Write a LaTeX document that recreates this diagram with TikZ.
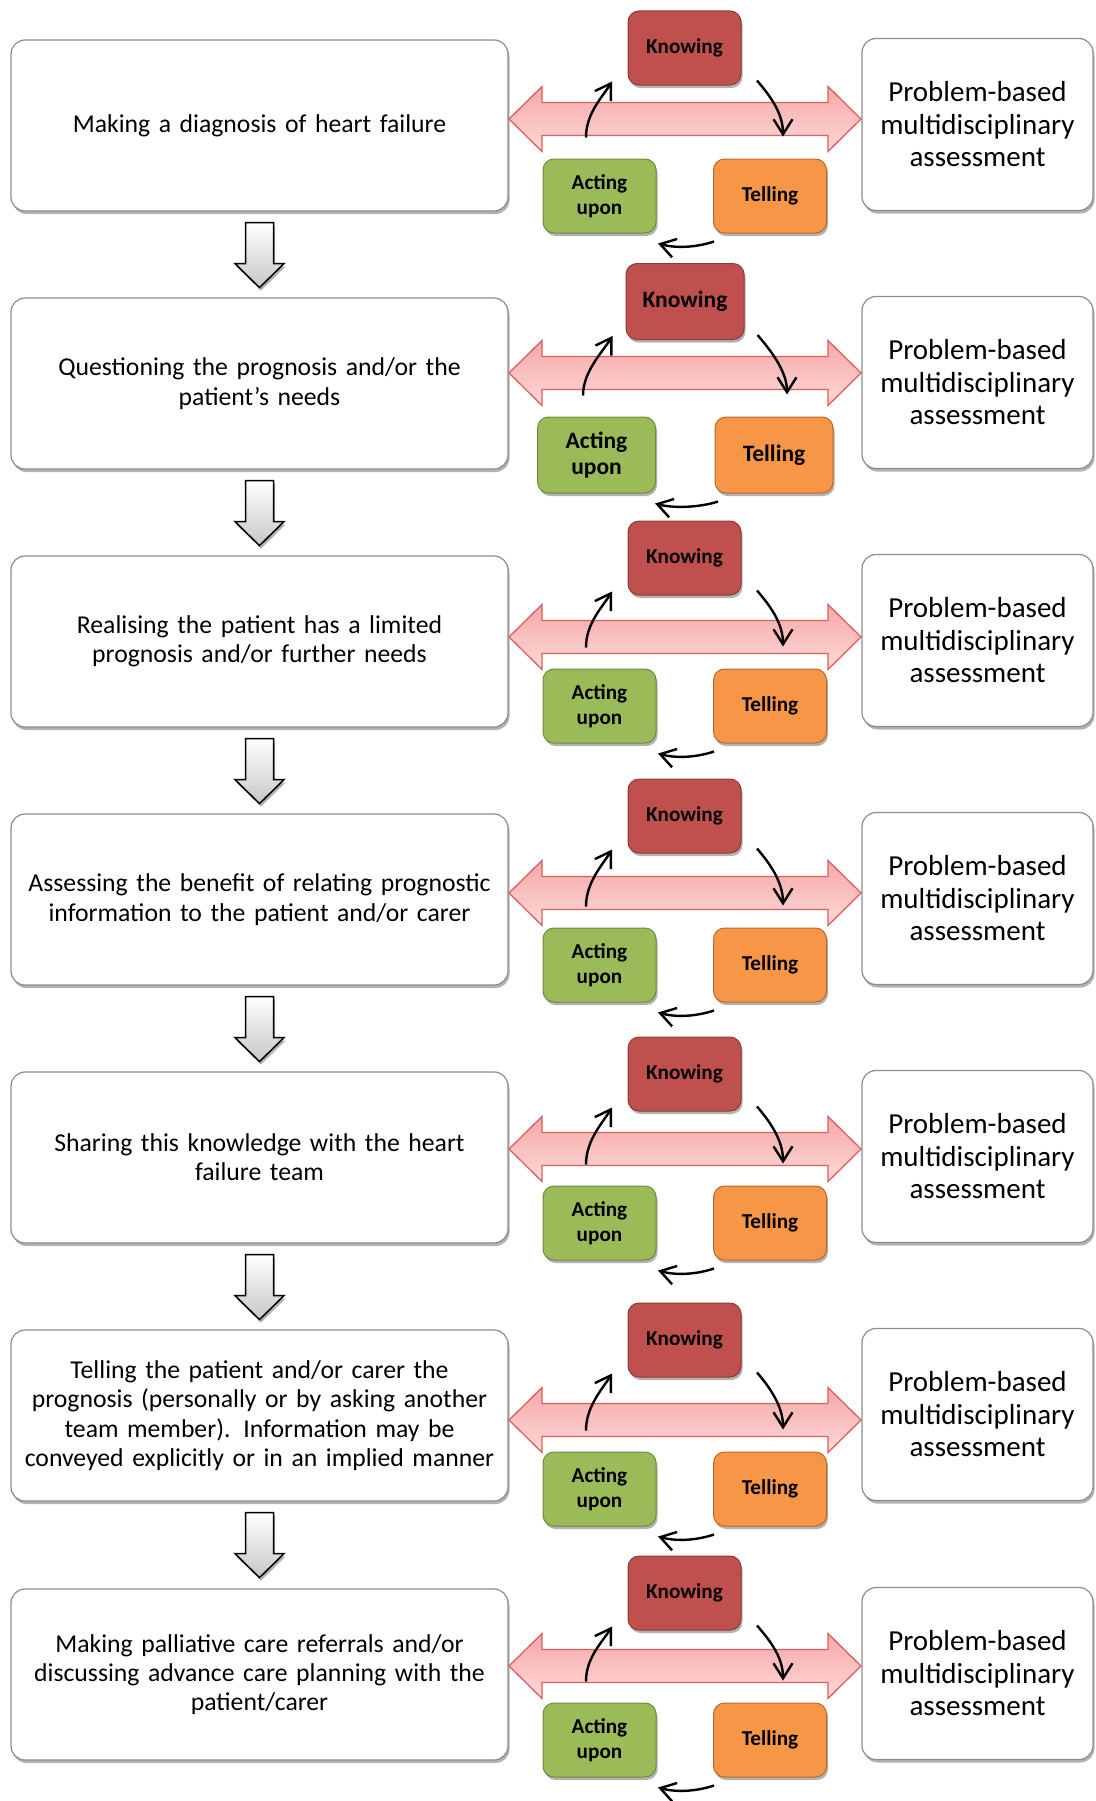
\documentclass[tikz,border=0pt]{standalone}
\usepackage{fontspec}
\setmainfont{Carlito}
\usetikzlibrary{arrows.meta,shadows,calc}
\definecolor{kred}{HTML}{C0504D}
\definecolor{kredd}{HTML}{8C3A38}
\definecolor{agreen}{HTML}{9BBB59}
\definecolor{agreend}{HTML}{6F8A3C}
\definecolor{torange}{HTML}{F79646}
\definecolor{toranged}{HTML}{B86A2C}
\definecolor{boxline}{HTML}{8C8C8C}
\definecolor{pinkline}{HTML}{D9605C}
\definecolor{pinktop}{HTML}{F5A8A8}
\definecolor{pinkbot}{HTML}{FFD8D8}
\tikzset{
 shad/.style={drop shadow={shadow xshift=1.5pt,shadow yshift=-3pt,opacity=0.3,fill=black}},
 leftbox/.style={shad, draw=boxline, line width=1.2pt, fill=white, rounded corners=14pt,
   minimum width=497pt, minimum height=171pt, inner sep=0pt, text width=490pt, align=center,
   font=\fontsize{25.7}{29.3}\selectfont},
 rightbox/.style={shad, draw=boxline, line width=1.2pt, fill=white, rounded corners=14pt,
   minimum width=231pt, minimum height=172pt, inner sep=0pt, text width=225pt, align=center,
   font=\fontsize{29}{32.5}\selectfont},
 smallbox/.style={shad, rounded corners=11pt, line width=1pt, minimum width=113pt, minimum height=74pt,
   inner sep=0pt, align=center, font=\fontsize{21.2}{25}\selectfont\bfseries},
 kbox/.style={smallbox, fill=kred, draw=kredd},
 abox/.style={smallbox, fill=agreen, draw=agreend},
 tbox/.style={smallbox, fill=torange, draw=toranged},
 normcyc/.style={},
 bigcyc/.style={minimum width=118pt, minimum height=76pt, font=\fontsize{23.5}{26}\selectfont\bfseries},
 dblarrow/.style={draw=pinkline, line width=1.3pt, top color=pinktop, bottom color=pinkbot, line join=miter},
 loop/.style={line width=2.4pt, black, -{Straight Barb[length=15pt,width=19pt,line width=2.4pt]}},
 downarrow/.style={shad, draw=black, line width=1.5pt, top color=white, bottom color=black!22, line join=miter},
}
% #1 id, #2 knowing x, #3 knowing y, #4 arrow y, #5 acting x, #6 telling x, #7 acting/telling y, #8 size style
\newcommand\cycgroup[8]{%
 \path[dblarrow] (509,#4) -- (542,#4-32.5) -- (542,#4-16.5) -- (828,#4-16.5) -- (828,#4-32.5)
   -- (861,#4) -- (828,#4+32.5) -- (828,#4+16.5) -- (542,#4+16.5) -- (542,#4+32.5) -- cycle;
 \node[kbox,#8] (K#1) at (#2,#3) {Knowing};
 \node[abox,#8] (A#1) at (#5,#7) {Acting\\upon};
 \node[tbox,#8] (T#1) at (#6,#7) {Telling};
 \draw[loop] ($(A#1.north)+(-13.5,-21)$) .. controls +(0,-24) and +(-10,16) .. ($(K#1.south)+(-72.5,-4)$);
 \draw[loop] ($(K#1.south)+(72.5,-5)$) .. controls +(12,14) and +(0,-24) .. ($(T#1.north)+(13,-22)$);
 \draw[loop] ($(T#1.south)+(-56,8)$) .. controls +(-18,6) and +(18,5) .. ($(A#1.south)+(58.5,10)$);
}
\begin{document}
\begin{tikzpicture}[x=1pt,y=-1pt]
\useasboundingbox (0,0) rectangle (1095,1801);
% left process boxes
\node[leftbox] (L1) at (259.5,125.5) {Making a diagnosis of heart failure};
\node[leftbox] (L2) at (259.5,383.5) {Questioning the prognosis and/or the\\patient's needs};
\node[leftbox] (L3) at (259.5,641.5) {Realising the patient has a limited\\prognosis and/or further needs};
\node[leftbox] (L4) at (259.5,899.5) {Assessing the benefit of relating prognostic\\information to the patient and/or carer};
\node[leftbox] (L5) at (259.5,1157.5) {Sharing this knowledge with the heart\\failure team};
\node[leftbox] (L6) at (259.5,1415.5) {Telling the patient and/or carer the\\prognosis (personally or by asking another\\team member). Information may be\\conveyed explicitly or in an implied manner};
\node[leftbox] (L7) at (259.5,1674.5) {Making palliative care referrals and/or\\discussing advance care planning with the\\patient/carer};
% right assessment boxes
\foreach \i/\y in {1/124.5,2/382.5,3/640.5,4/898.5,5/1156.5,6/1414.5,7/1673.5}
  \node[rightbox] (R\i) at (977.5,\y) {Problem-based\\multidisciplinary\\assessment};
% down arrows between process boxes
\foreach \i in {1,...,6}
  \path[downarrow] ($(L\i.south)+(-14,11)$) -- ($(L\i.south)+(14,11)$) -- ($(L\i.south)+(14,52)$)
    -- ($(L\i.south)+(24.5,52)$) -- ($(L\i.south)+(0,76)$) -- ($(L\i.south)+(-24.5,52)$)
    -- ($(L\i.south)+(-14,52)$) -- cycle;
% knowing / telling / acting cycles
\cycgroup{1}{684.5}{48}{119}{599.5}{770}{196}{normcyc}
\cycgroup{2}{685}{301.5}{373}{596.5}{774}{455}{bigcyc}
\cycgroup{3}{684.5}{558}{637}{599.5}{770}{706}{normcyc}
\cycgroup{4}{684.5}{816}{893}{599.5}{770}{965}{normcyc}
\cycgroup{5}{684.5}{1074}{1149}{599.5}{770}{1223}{normcyc}
\cycgroup{6}{684.5}{1340}{1420}{599.5}{770}{1489}{normcyc}
\cycgroup{7}{684.5}{1593}{1666}{599.5}{770}{1740}{normcyc}
\end{tikzpicture}
\end{document}
